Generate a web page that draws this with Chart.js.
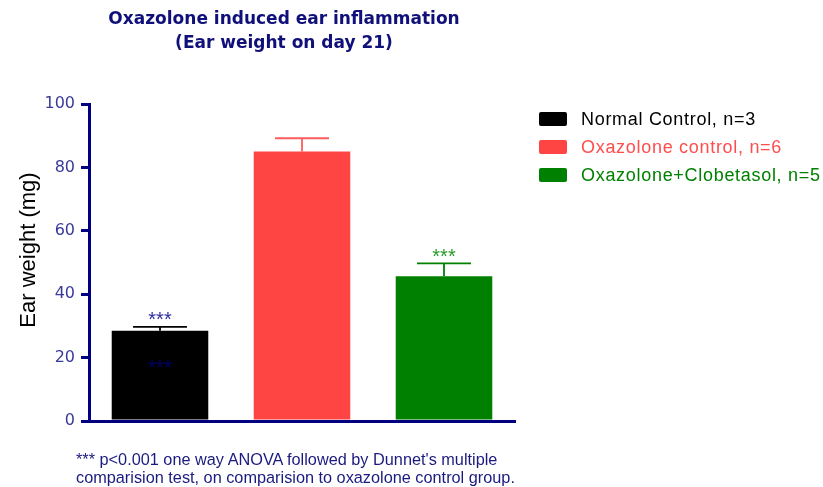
<!DOCTYPE html>
<html>
<head>
<meta charset="utf-8">
<script src="https://cdn.jsdelivr.net/npm/chart.js@4.4.1/dist/chart.umd.min.js"></script>
<style>
  body { margin: 0; background: #fff; }
  #wrap { position: relative; width: 823px; height: 487px; }
  #barChart { position: absolute; left: 0; top: 0; }
  #title {
    position: absolute; left: 34px; width: 500px; top: 6px;
    text-align: center; font: bold 17px "DejaVu Sans", sans-serif;
    color: #10107a; line-height: 24px;
  }
  #legend { position: absolute; left: 539px; top: 105px; font: 18px "Liberation Sans", Arial, sans-serif; letter-spacing: 0.7px; }
  #legend div { height: 28px; display: flex; align-items: center; }
  #legend span.sw { display: inline-block; width: 28px; height: 14px; border-radius: 2px; margin-right: 14px; }
  #note {
    position: absolute; left: 76px; top: 450px;
    font: 16.3px "Liberation Sans", Arial, sans-serif; color: #1a1a80; line-height: 18px;
  }
</style>
</head>
<body>
<div id="wrap">
  <canvas id="barChart" width="823" height="487"></canvas>
  <div id="title">Oxazolone induced ear inflammation<br>(Ear weight on day 21)</div>
  <div id="legend"></div>
  <div id="note">*** p&lt;0.001 one way ANOVA followed by Dunnet's multiple<br>comparision test, on comparision to oxazolone control group.</div>
</div>
<script>
// DATA
const groups = ["Normal Control, n=3", "Oxazolone control, n=6", "Oxazolone+Clobetasol, n=5"];
const earWeight = [28.5, 85, 45.7];
const earSem = [1.2, 4.2, 4.0];
const signif = ["***", "", "***"];
const yTicks = [0, 20, 40, 60, 80, 100];

const barColors = ["#000000", "#ff4444", "#008000"];
const capColors = ["#000000", "#ff5c5c", "#008000"];
const textColors = ["#000000", "#ff4d4d", "#008000"];
const starColors = ["#3030a0", "", "#2a9a2a"];
const navy = "#000080";

// legend (html)
const legendEl = document.getElementById("legend");
groups.forEach((g, i) => {
  const row = document.createElement("div");
  row.innerHTML = '<span class="sw" style="background:' + barColors[i] + '"></span>' +
    '<span style="color:' + textColors[i] + '">' + g + '</span>';
  legendEl.appendChild(row);
});

// error bars + stars
const errorBars = {
  id: "errorBars",
  afterDatasetsDraw(chart) {
    const ctx = chart.ctx;
    const meta = chart.getDatasetMeta(0);
    const y = chart.scales.y;
    ctx.save();
    ctx.font = "20px 'Liberation Sans', Arial, sans-serif";
    ctx.textAlign = "center";
    ctx.textBaseline = "middle";
    meta.data.forEach((bar, i) => {
      const top = y.getPixelForValue(earWeight[i] + earSem[i]);
      ctx.strokeStyle = capColors[i];
      ctx.lineWidth = 1.8;
      ctx.beginPath();
      ctx.moveTo(bar.x, bar.y);
      ctx.lineTo(bar.x, top);
      ctx.moveTo(bar.x - 27, top);
      ctx.lineTo(bar.x + 27, top);
      ctx.stroke();
      if (signif[i]) {
        ctx.fillStyle = starColors[i];
        ctx.fillText(signif[i], bar.x, top - 6);
      }
    });
    // stray marker inside first bar, as in the original
    const b0 = meta.data[0];
    ctx.fillStyle = "#000070";
    ctx.fillText(signif[0], b0.x, y.getPixelForValue(16.5));

    // y axis title
    ctx.translate(29, 250);
    ctx.rotate(-Math.PI / 2);
    ctx.fillStyle = "#000";
    ctx.font = "22px 'Liberation Sans', Arial, sans-serif";
    ctx.fillText("Ear weight (mg)", 0, 0);
    ctx.restore();
  }
};

new Chart(document.getElementById("barChart"), {
  type: "bar",
  data: {
    labels: groups,
    datasets: [{
      data: earWeight,
      backgroundColor: barColors,
      borderColor: barColors,
      borderWidth: 0,
      barPercentage: 1,
      categoryPercentage: 0.68
    }]
  },
  options: {
    responsive: false,
    animation: false,
    layout: { padding: { left: 0, top: 104, right: 308, bottom: 66 } },
    plugins: { legend: { display: false }, tooltip: { enabled: false } },
    scales: {
      x: {
        ticks: { display: false },
        grid: { display: false },
        border: { color: navy, width: 3 },
        afterFit: s => { s.height = 0; }
      },
      y: {
        min: 0,
        max: 100,
        afterBuildTicks: s => { s.ticks = yTicks.map(v => ({ value: v })); },
        ticks: {
          color: "#3a3a9a",
          font: { family: "DejaVu Sans", size: 16 },
          padding: 6
        },
        grid: { drawOnChartArea: false, tickLength: 8, color: navy, lineWidth: 3 },
        border: { color: navy, width: 3 },
        afterFit: s => { s.width = 89; }
      }
    }
  },
  plugins: [errorBars]
});
</script>
</body>
</html>
